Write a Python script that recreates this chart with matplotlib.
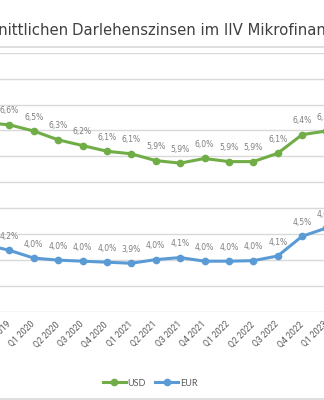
import matplotlib
matplotlib.use("Agg")
import matplotlib.pyplot as plt
from matplotlib.lines import Line2D

# =============================================================================
# Data (the chart is a cropped view of a wider chart)
# =============================================================================

quarters = [
    "Q3 2019", "Q4 2019",
    "Q1 2020", "Q2 2020", "Q3 2020", "Q4 2020",
    "Q1 2021", "Q2 2021", "Q3 2021", "Q4 2021",
    "Q1 2022", "Q2 2022", "Q3 2022", "Q4 2022",
    "Q1 2023", "Q2 2023",
]

usd_rates = [6.65, 6.61, 6.49, 6.32, 6.21, 6.10, 6.05, 5.92, 5.87, 5.96,
             5.90, 5.90, 6.06, 6.42, 6.49, 6.55]
eur_rates = [4.30, 4.19, 4.04, 4.00, 3.98, 3.96, 3.94, 4.01, 4.05, 3.98,
             3.98, 3.99, 4.08, 4.46, 4.62, 4.70]

usd_labels = ["6,7%", "6,6%", "6,5%", "6,3%", "6,2%", "6,1%", "6,1%", "5,9%",
              "5,9%", "6,0%", "5,9%", "5,9%", "6,1%", "6,4%", "6,5%", "6,6%"]
eur_labels = ["4,3%", "4,2%", "4,0%", "4,0%", "4,0%", "4,0%", "3,9%", "4,0%",
              "4,1%", "4,0%", "4,0%", "4,0%", "4,1%", "4,5%", "4,6%", "4,7%"]

title_left = "Entwicklung der durchschnittlichen"
title_right = "Darlehenszinsen im IIV Mikrofinanzfonds"

# =============================================================================
# Style
# =============================================================================

W, H = 324, 400
GREEN = "#70ad47"
BLUE = "#5b9bd5"
GRID = "#d9d9d9"
LABEL = "#7f7f7f"
TICK = "#595959"

# category spacing in pixels and pixel x of the first category
STEP_PX = 24.4
X0_PX = -15.1


def main():
    fig = plt.figure(figsize=(W / 100, H / 100), dpi=100)

    # axes run past both figure edges, so the picture shows a cropped window
    j_lo, j_hi = -1.0, 16.0
    left_px = X0_PX + STEP_PX * j_lo
    width_px = STEP_PX * (j_hi - j_lo)
    ax = fig.add_axes([left_px / W, (H - 312) / H, width_px / W, 259.3 / H])
    x = list(range(len(quarters)))

    ax.set_yticks([3.0 + 0.5 * i for i in range(11)])
    ax.yaxis.grid(True, color=GRID, linewidth=1.0)
    ax.set_axisbelow(True)
    for side in ax.spines.values():
        side.set_visible(False)
    ax.tick_params(axis="both", length=0)
    ax.set_yticklabels([])

    ax.set_xticks(x)
    ax.set_xticklabels(quarters, rotation=45, ha="right", va="center",
                       rotation_mode="anchor", fontsize=6.2, color=TICK,
                       family="Roboto")
    ax.tick_params(axis="x", pad=8)

    for values, labels, color in ((usd_rates, usd_labels, GREEN),
                                  (eur_rates, eur_labels, BLUE)):
        ax.plot(x, values, color=color, linewidth=2.2, marker="o",
                markersize=4.5, clip_on=False, solid_capstyle="round")
        for xi, v, lab in zip(x, values, labels):
            ax.annotate(lab, (xi, v), xytext=(0, 10), textcoords="offset points",
                        ha="center", va="center", fontsize=5.5, color=LABEL,
                        family="DejaVu Sans", annotation_clip=False)

    # set limits last: set_xticks would widen them again
    ax.set_xlim(j_lo, j_hi)
    ax.set_ylim(3.0, 8.0)

    # cropped title
    fig.text(68.5 / W, 1 - 35 / H, title_left, ha="right", va="baseline",
             fontsize=10.7, color="#404040", family="DejaVu Sans")
    fig.text(72.5 / W, 1 - 35 / H, title_right, ha="left", va="baseline",
             fontsize=10.7, color="#404040", family="DejaVu Sans")

    # frame lines
    fig.add_artist(Line2D([0, 1], [1 - 46.7 / H] * 2, color=GRID, linewidth=1.2,
                          transform=fig.transFigure))
    fig.add_artist(Line2D([0, 1], [1 - 399 / H] * 2, color=GRID, linewidth=1.2,
                          transform=fig.transFigure))

    handles = [
        Line2D([], [], color=GREEN, linewidth=2.2, marker="o", markersize=4.5),
        Line2D([], [], color=BLUE, linewidth=2.2, marker="o", markersize=4.5),
    ]
    fig.legend(handles, ["USD", "EUR"], loc="center",
               bbox_to_anchor=(150 / W, 1 - 383 / H), ncol=2, frameon=False,
               handlelength=2.6, handletextpad=0.15, columnspacing=1.0,
               prop={"family": "Lato", "size": 6.5}, labelcolor=TICK)

    fig.savefig("out.png", dpi=100)


if __name__ == "__main__":
    main()
